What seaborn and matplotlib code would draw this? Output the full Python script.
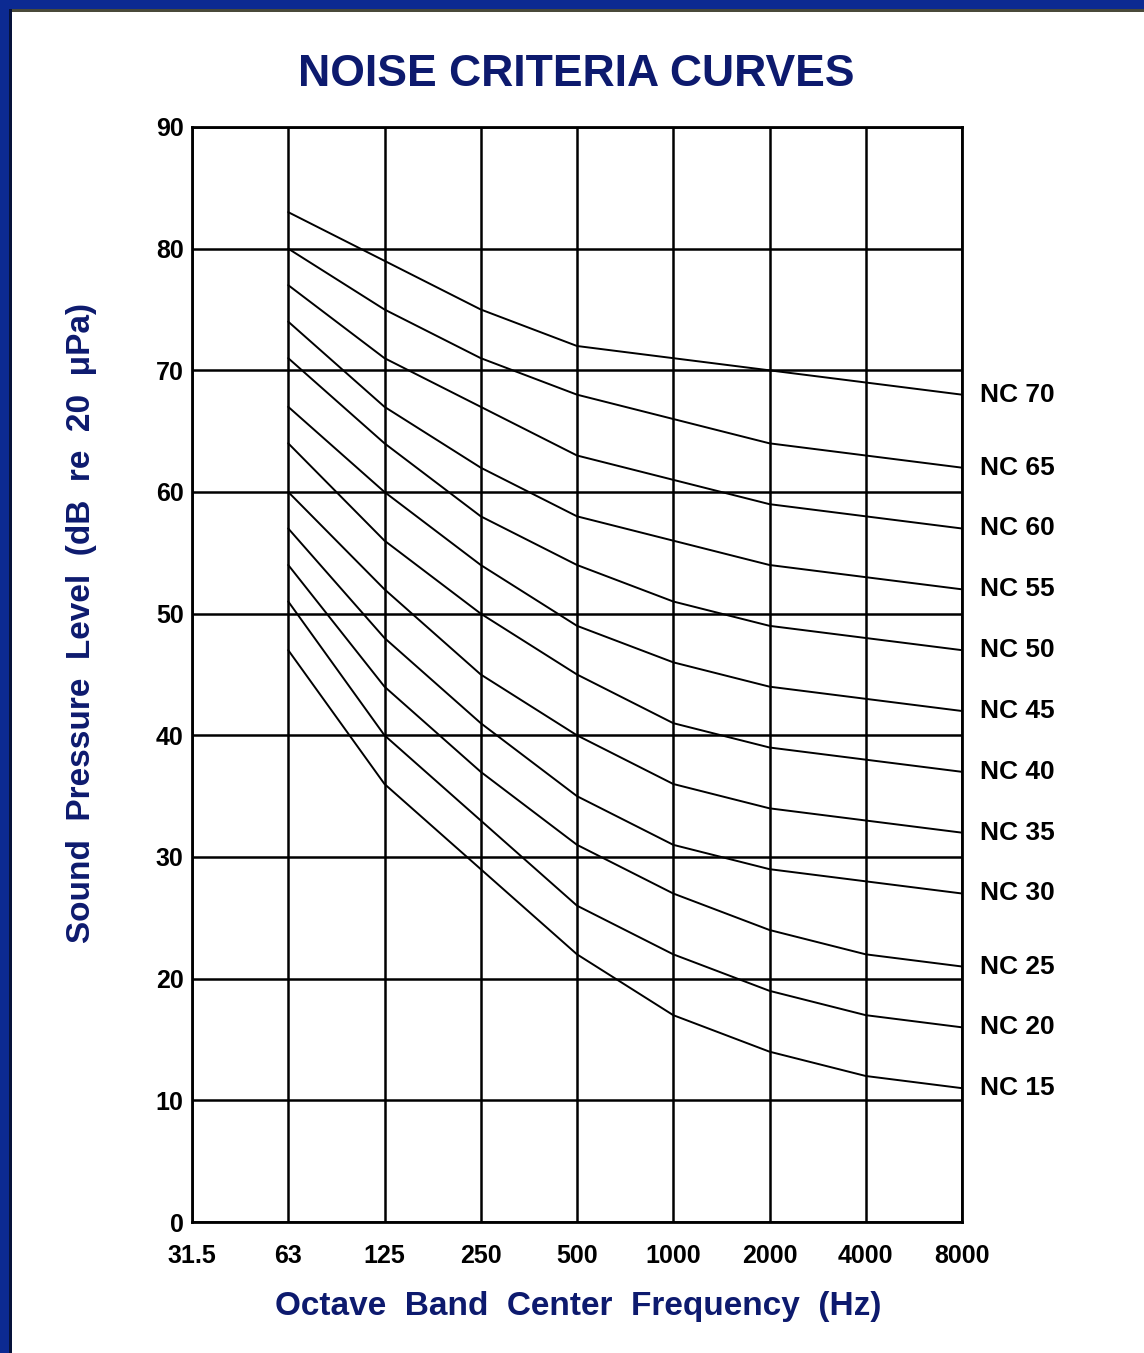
import numpy as np
import pandas as pd
import matplotlib
matplotlib.use("Agg")
import matplotlib.pyplot as plt
import seaborn as sns
from matplotlib.patches import Rectangle

# ==========================================
# DATA
# ==========================================

freq_labels = ["31.5", "63", "125", "250", "500", "1000", "2000", "4000", "8000"]
curve_freqs = ["63", "125", "250", "500", "1000", "2000", "4000", "8000"]

nc_names = ["NC 15", "NC 20", "NC 25", "NC 30", "NC 35", "NC 40",
            "NC 45", "NC 50", "NC 55", "NC 60", "NC 65", "NC 70"]

nc15 = [47, 36, 29, 22, 17, 14, 12, 11]
nc20 = [51, 40, 33, 26, 22, 19, 17, 16]
nc25 = [54, 44, 37, 31, 27, 24, 22, 21]
nc30 = [57, 48, 41, 35, 31, 29, 28, 27]
nc35 = [60, 52, 45, 40, 36, 34, 33, 32]
nc40 = [64, 56, 50, 45, 41, 39, 38, 37]
nc45 = [67, 60, 54, 49, 46, 44, 43, 42]
nc50 = [71, 64, 58, 54, 51, 49, 48, 47]
nc55 = [74, 67, 62, 58, 56, 54, 53, 52]
nc60 = [77, 71, 67, 63, 61, 59, 58, 57]
nc65 = [80, 75, 71, 68, 66, 64, 63, 62]
nc70 = [83, 79, 75, 72, 71, 70, 69, 68]

y_ticks = [0, 10, 20, 30, 40, 50, 60, 70, 80, 90]

curves = [nc15, nc20, nc25, nc30, nc35, nc40, nc45, nc50, nc55, nc60, nc65, nc70]

# long table for seaborn, x = index of the frequency band
rows = []
for name, vals in zip(nc_names, curves):
    for f, v in zip(curve_freqs, vals):
        rows.append({"curve": name, "x": freq_labels.index(f), "spl": v})
df = pd.DataFrame(rows)

# ==========================================
# PLOT
# ==========================================

sns.set_style("white")
plt.rcParams['font.family'] = ['Liberation Sans', 'DejaVu Sans']
plt.rcParams['font.weight'] = 'bold'

navy = "#0d1a6e"

fig = plt.figure(figsize=(11.44, 13.53), dpi=100)
fig.patch.set_facecolor("white")
ax = fig.add_axes([192 / 1144, 1 - 1222 / 1353, 770 / 1144, 1095 / 1353])

sns.lineplot(data=df, x="x", y="spl", hue="curve",
             palette=["black"] * len(nc_names), legend=False,
             linewidth=1.4, ax=ax)

ax.set_xlim(0, len(freq_labels) - 1)
ax.set_ylim(0, 90)
ax.set_xticks(range(len(freq_labels)))
ax.set_xticklabels(freq_labels)
ax.set_yticks(y_ticks)
ax.grid(True, color="black", linewidth=1.8)
ax.set_axisbelow(True)
for sp in ax.spines.values():
    sp.set_color("black")
    sp.set_linewidth(2)
ax.tick_params(length=0, labelsize=18, colors="black")
ax.tick_params(axis="x", pad=16)
ax.tick_params(axis="y", pad=6)
for lab in ax.get_xticklabels() + ax.get_yticklabels():
    lab.set_fontweight("bold")
ax.set_xlabel("")
ax.set_ylabel("")

# curve names at the right end
for name, vals in zip(nc_names, curves):
    ax.text(8.19, vals[-1], name, ha="left", va="center", fontsize=19,
            fontweight="bold", color="black", clip_on=False)

fig.text(576 / 1144, 1 - 74 / 1353, "NOISE CRITERIA CURVES", ha="center", va="center",
         fontsize=32, fontweight="bold", color=navy)
fig.text(578 / 1144, 1 - 1307 / 1353, "Octave  Band  Center  Frequency  (Hz)", ha="center",
         va="center", fontsize=24, fontweight="bold", color=navy)
fig.text(82 / 1144, 1 - 623 / 1353, "Sound  Pressure  Level  (dB  re  20  μPa)", ha="center",
         va="center", rotation=90, fontsize=24, fontweight="bold", color=navy)

# blue frame on the top and left edges
fig.patches.append(Rectangle((0, 1 - 9 / 1353), 1, 9 / 1353, transform=fig.transFigure,
                             facecolor="#0c2a92", edgecolor="none", zorder=10))
fig.patches.append(Rectangle((0, 1 - 12 / 1353), 1, 3 / 1353, transform=fig.transFigure,
                             facecolor="#4a4a3a", edgecolor="none", zorder=10))
fig.patches.append(Rectangle((0, 0), 9 / 1144, 1, transform=fig.transFigure,
                             facecolor="#0c2a92", edgecolor="none", zorder=10))
fig.patches.append(Rectangle((9 / 1144, 0), 3 / 1144, 1 - 9 / 1353, transform=fig.transFigure,
                             facecolor="#06123a", edgecolor="none", zorder=10))

fig.savefig("out.png", dpi=100, facecolor="white")
